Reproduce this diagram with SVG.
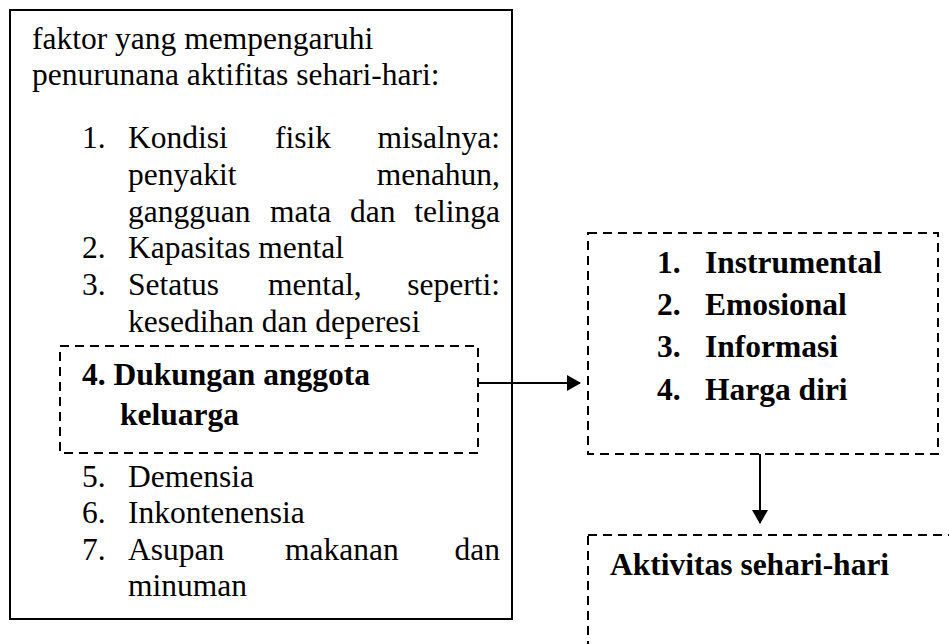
<svg xmlns="http://www.w3.org/2000/svg" width="949" height="644" viewBox="0 0 949 644">
<style>
text{font-family:"Liberation Serif","Times New Roman",serif;font-size:31.5px;fill:#000}
.b{font-weight:bold}
.e{text-anchor:end}
.solid{fill:#fff;stroke:#000;stroke-width:2}
.dash{fill:none;stroke:#000;stroke-width:2;stroke-dasharray:9 6}
.conn{stroke:#000;stroke-width:2;fill:none}
</style>
<defs>
<marker id="ah" markerWidth="14" markerHeight="16" refX="13" refY="8" orient="auto" markerUnits="userSpaceOnUse">
<path d="M0,0 L14,8 L0,16 Z" fill="#000"/>
</marker>
</defs>
<rect width="949" height="644" fill="#fff"/>
<g id="factors">
<rect class="solid" x="10" y="10" width="502" height="609"/>
<text x="32" y="49">faktor yang mempengaruhi</text>
<text x="32" y="85">penurunana aktifitas sehari-hari:</text>
<text x="82" y="148">1.</text><text x="128" y="148">Kondisi</text><text x="275" y="148">fisik</text><text class="e" x="500" y="148">misalnya:</text>
<text x="128" y="185">penyakit</text><text class="e" x="500" y="185">menahun,</text>
<text x="128" y="222">gangguan</text><text x="270" y="222">mata</text><text x="350" y="222">dan</text><text class="e" x="500" y="222">telinga</text>
<text x="82" y="258">2.</text><text x="128" y="258">Kapasitas mental</text>
<text x="82" y="295">3.</text><text x="128" y="295">Setatus</text><text x="268" y="295">mental,</text><text class="e" x="500" y="295">seperti:</text>
<text x="128" y="332">kesedihan dan deperesi</text>
<text x="82" y="487">5.</text><text x="128" y="487">Demensia</text>
<text x="82" y="523">6.</text><text x="128" y="523">Inkontenensia</text>
<text x="82" y="560">7.</text><text x="128" y="560">Asupan</text><text x="285" y="560">makanan</text><text class="e" x="500" y="560">dan</text>
<text x="128" y="596">minuman</text>
</g>
<g id="dukungan">
<rect class="dash" x="60" y="346" width="418" height="107"/>
<text class="b" x="82" y="385">4. Dukungan anggota</text>
<text class="b" x="120" y="425">keluarga</text>
</g>
<g id="jenis">
<rect class="dash" x="588" y="233" width="350" height="221"/>
<text class="b" x="657" y="273">1.</text><text class="b" x="705" y="273">Instrumental</text>
<text class="b" x="657" y="315">2.</text><text class="b" x="705" y="315">Emosional</text>
<text class="b" x="657" y="357">3.</text><text class="b" x="705" y="357">Informasi</text>
<text class="b" x="657" y="400">4.</text><text class="b" x="705" y="400">Harga diri</text>
</g>
<g id="aktivitas">
<rect class="dash" x="588" y="535" width="420" height="200"/>
<text class="b" x="610" y="575">Aktivitas sehari-hari</text>
</g>
<g id="connectors">
<line class="conn" x1="478" y1="383" x2="580" y2="383" marker-end="url(#ah)"/>
<line class="conn" x1="760" y1="454" x2="760" y2="523" marker-end="url(#ah)"/>
</g>
</svg>
